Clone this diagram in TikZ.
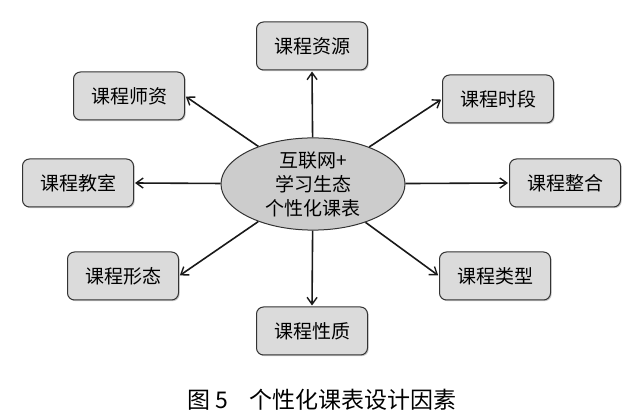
\documentclass[tikz,border=0pt]{standalone}
\usepackage{fontspec}
\setmainfont{Noto Sans CJK SC}
\usetikzlibrary{arrows.meta,shadows,shapes.geometric}
\tikzset{
  factor/.style={draw=black!80, line width=1pt, fill=black!14, rounded corners=7pt,
    minimum width=111pt, minimum height=48pt, inner sep=0pt, font=\fontsize{19}{21}\selectfont,
    drop shadow={shadow xshift=1.2pt, shadow yshift=-1.2pt, fill=black!35, opacity=0.6}},
  hub/.style={draw=black!80, line width=1pt, fill=black!20, ellipse, minimum width=184pt,
    minimum height=88pt, inner sep=0pt, align=center, font=\fontsize{19}{24}\selectfont},
  link/.style={-{Straight Barb[length=7pt,width=10pt,line width=1.4pt]}, line width=1.6pt, black!90, shorten >=1pt},
}
\begin{document}
\begin{tikzpicture}[x=1pt,y=-1pt]
\useasboundingbox (0,0) rectangle (640,419);
\node[hub] (c) at (313,184) {互联网+\\学习生态\\个性化课表};
\node[factor] (zy) at (312,46) {课程资源};
\node[factor] (sd) at (498,99) {课程时段};
\node[factor] (zh) at (565,183) {课程整合};
\node[factor] (lx) at (495,276) {课程类型};
\node[factor] (xz) at (312,331) {课程性质};
\node[factor] (xt) at (123,276) {课程形态};
\node[factor] (js) at (78,183) {课程教室};
\node[factor] (sz) at (129,96) {课程师资};
\draw[link] (c) -- (zy.south);
\draw[link] (c) -- (sd.west);
\draw[link] (c) -- (zh.west);
\draw[link] (c) -- (lx.west);
\draw[link] (c) -- (xz.north);
\draw[link] (c) -- (xt.east);
\draw[link] (c) -- (js.east);
\draw[link] (c) -- (sz.east);
\node[font=\fontsize{23}{26}\selectfont] (cap) at (322,400) {图 5\hspace{0.9em}个性化课表设计因素};
\end{tikzpicture}
\end{document}
